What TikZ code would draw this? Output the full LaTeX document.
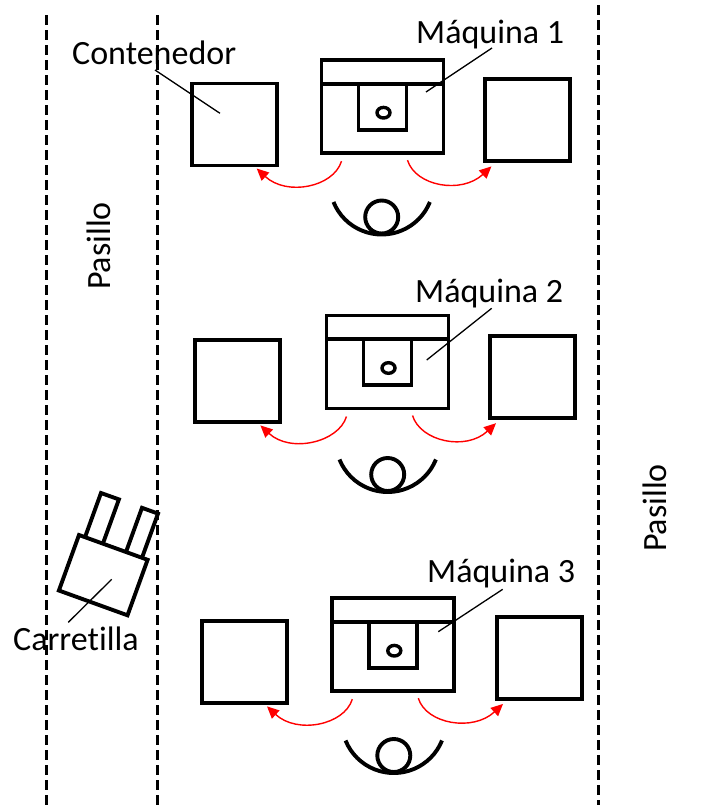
\documentclass[tikz,border=0pt]{standalone}
\usepackage{fontspec}
\setmainfont{Carlito}[Ligatures=NoCommon]
\usetikzlibrary{arrows.meta,calc}

% machine body: top band, inner chamber and spindle
\newcommand\drawmachine[1]{%
  \draw[boxline] ($(#1.north west)+(0,23.5)$) -- ($(#1.north east)+(0,23.5)$);
  \draw[boxline] ($(#1.north)+(-24,23.5)$) |- ($(#1.north)+(24,69.5)$) -- ($(#1.north)+(24,23.5)$);
  \draw[line width=3.4pt] ($(#1.north)+(1,52.5)$) ellipse [x radius=6.5, y radius=5.3];
}
% operator seen from above, #1 = lowest point of the arms
\newcommand\drawoperator[1]{%
  \draw[boxline] ($(#1)+(48.2,-32.5)$) arc[start angle=22, end angle=158, radius=52];
  \draw[boxline] ($(#1)+(0,-17.5)$) circle[radius=16.5];
}

\begin{document}
\begin{tikzpicture}[x=1pt,y=-1pt,
  boxline/.style={line width=3.9pt},
  container/.style={draw, line width=3.9pt, minimum width=85pt, minimum height=82pt, inner sep=0pt, outer sep=0pt},
  machine/.style={draw, line width=3.9pt, minimum width=122pt, minimum height=93pt, inner sep=0pt, outer sep=0pt},
  bigtext/.style={font=\fontsize{34}{40}\selectfont, inner sep=0pt},
  leader/.style={line width=1.3pt},
  aisle/.style={line width=3pt, dash pattern=on 9.5pt off 5.5pt},
  move/.style={red, line width=1.4pt, -{Triangle[length=12pt,width=11pt]}}]

\useasboundingbox (0,0) rectangle (708,809);

% aisle boundaries
\draw[aisle] (46.2,15) -- (46.2,809);
\draw[aisle] (157.3,15) -- (157.3,809);
\draw[aisle] (598,5) -- (598,805);

\node[bigtext, rotate=90, anchor=base] (pas1) at (110,246) {Pasillo};
\node[bigtext, rotate=90, anchor=base] (pas2) at (666,508) {Pasillo};

% workstation 1
\node[machine] (m1) at (382.5,106.7) {};
\drawmachine{m1}
\node[container] (c1l) at (234.2,124.5) {};
\node[container] (c1r) at (527.9,120.4) {};
\coordinate (op1) at (381.7,234.5);
\drawoperator{op1}
\draw[move] ($(m1.south west)+(20,8)$) .. controls +(-8,26) and +(30,28) .. ($(c1l.south east)+(-20,3)$);
\draw[move] ($(m1.south east)+(-36,7)$) .. controls +(8,26) and +(-30,28) .. ($(c1r.south west)+(6,5)$);

% workstation 2
\node[machine] (m2) at (387.5,362) {};
\drawmachine{m2}
\node[container] (c2l) at (237.9,381.4) {};
\node[container] (c2r) at (532.5,377.2) {};
\coordinate (op2) at (387.7,492);
\drawoperator{op2}
\draw[move] ($(m2.south west)+(20,8)$) .. controls +(-8,26) and +(30,28) .. ($(c2l.south east)+(-20,3)$);
\draw[move] ($(m2.south east)+(-36,7)$) .. controls +(8,26) and +(-30,28) .. ($(c2r.south west)+(6,5)$);

% workstation 3
\node[machine] (m3) at (393.3,644.7) {};
\drawmachine{m3}
\node[container] (c3l) at (244.5,662.4) {};
\node[container] (c3r) at (539.5,657.9) {};
\coordinate (op3) at (393.8,773);
\drawoperator{op3}
\draw[move] ($(m3.south west)+(20,8)$) .. controls +(-8,26) and +(30,28) .. ($(c3l.south east)+(-20,3)$);
\draw[move] ($(m3.south east)+(-36,7)$) .. controls +(8,26) and +(-30,28) .. ($(c3r.south west)+(6,5)$);

% forklift
\draw[boxline] (79,535) -- (147.6,559.8) -- (127.5,615.3) -- (58.9,590.5) -- cycle;
\draw[boxline] (85,537.2) -- (101,493) -- (118.9,499.4) -- (102.9,543.6);
\draw[boxline] (126,552) -- (142,507.8) -- (158,513.6) -- (142,557.8);

% labels
\node[bigtext, anchor=base west] (lcont) at (72,64) {Contenedor};
\node[bigtext, anchor=base west] (lm1) at (416,43) {Máquina 1};
\node[bigtext, anchor=base west] (lm2) at (415,302) {Máquina 2};
\node[bigtext, anchor=base west] (lm3) at (427,582) {Máquina 3};
\node[bigtext, anchor=base west] (lcar) at (13,650) {Carretilla};

\coordinate (kc0) at (155,70);   \coordinate (kc1) at (220,113.3);
\coordinate (k10) at (492,48);   \coordinate (k11) at (426,92);
\coordinate (k20) at (491.7,308.3); \coordinate (k21) at (426.7,360);
\coordinate (k30) at (502.7,589.3); \coordinate (k31) at (438.3,631.7);
\coordinate (kf0) at (111.7,579.3); \coordinate (kf1) at (68.3,622.3);
\draw[leader] (kc0) -- (kc1);
\draw[leader] (k10) -- (k11);
\draw[leader] (k20) -- (k21);
\draw[leader] (k30) -- (k31);
\draw[leader] (kf0) -- (kf1);
\end{tikzpicture}
\end{document}
